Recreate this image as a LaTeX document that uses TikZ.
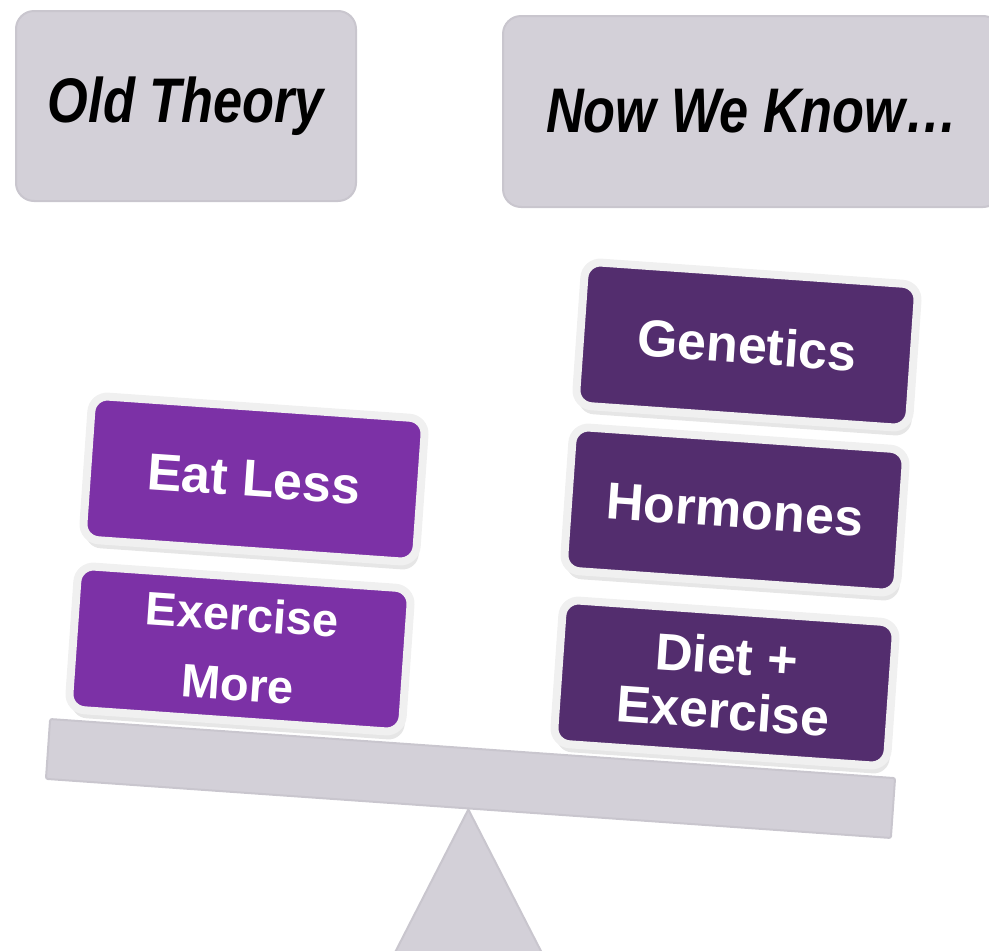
\documentclass[tikz,border=0pt]{standalone}
\usepackage{fontspec}
\setmainfont{Liberation Sans}
\newfontfamily\headfont[FakeStretch=0.83]{Liberation Sans}
\usetikzlibrary{shadows}
\definecolor{scalegray}{HTML}{D3D0D8}
\definecolor{scaleedge}{HTML}{C9C6CE}
\definecolor{oldpurple}{HTML}{7C31A6}
\definecolor{newpurple}{HTML}{532D6E}
\definecolor{rim}{HTML}{F0F0F0}
\begin{document}
\begin{tikzpicture}[x=1pt,y=-1pt,
  headbox/.style={draw=scaleedge, line width=2pt, fill=scalegray, rounded corners=18pt,
    font=\headfont\bfseries\itshape\fontsize{63}{70}\selectfont},
  weight/.style={draw=rim, line width=8pt, rounded corners=16pt, rotate=-4,
    minimum width=334pt, minimum height=144pt, text=white, align=center,
    font=\bfseries\fontsize{52}{55}\selectfont,
    drop shadow={opacity=0.2, shadow xshift=2pt, shadow yshift=-8pt}},
  plank/.style={draw=scaleedge, line width=2pt, fill=scalegray, rounded corners=2pt}]
\useasboundingbox (0,0) rectangle (989,951);
\clip (0,0) rectangle (989,951);
% headings
\node[headbox, minimum width=340pt, minimum height=190pt] (old) at (186,106) {Old Theory};
\node[headbox, minimum width=498pt, minimum height=191pt] (new) at (752,111.5) {Now We Know…};
% the scale
\node[plank, rotate=-4, minimum width=847pt, minimum height=60pt] (beam) at (470.5,778.5) {};
\filldraw[plank, rounded corners=0pt, line join=round] (beam.south) -- ++(-80,156) -- ++(160,0) -- cycle;
% left pan
\node[weight, fill=oldpurple] (eat) at (254,479) {Eat Less};
\node[weight, fill=oldpurple, font=\bfseries\fontsize{47}{70}\selectfont] (exmore) at (240,649) {Exercise\\More};
% right pan
\node[weight, fill=newpurple] (genes) at (747,345) {Genetics};
\node[weight, fill=newpurple] (horm) at (735,510) {Hormones};
\node[weight, fill=newpurple] (diet) at (725,683) {Diet +\\Exercise};
\end{tikzpicture}
\end{document}
